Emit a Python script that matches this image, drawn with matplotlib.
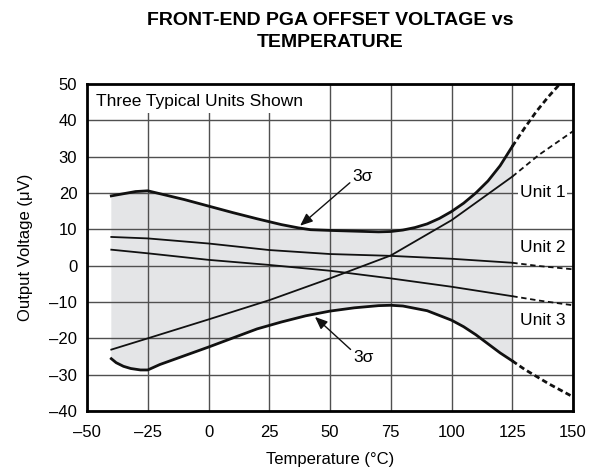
import matplotlib
matplotlib.use("Agg")
import matplotlib.pyplot as plt
from matplotlib.patches import Rectangle

plt.rcParams['font.family'] = ['Liberation Sans', 'DejaVu Sans']

# Upper 3 sigma (solid part, -40..125 C) and dashed extension
up_x = [-40, -35, -30, -25, -20, -10, 0, 10, 20, 30, 37, 42, 50, 60, 70, 75, 80, 85, 90, 95, 100, 105, 110, 115, 120, 125]
up_y = [19.2, 19.8, 20.4, 20.6, 19.8, 18.2, 16.4, 14.6, 12.9, 11.3, 10.4, 9.9, 9.7, 9.5, 9.3, 9.4, 9.8, 10.5, 11.5, 13.0, 14.9, 17.2, 20.0, 23.3, 27.5, 32.8]
up_dx = [125, 130, 135, 140, 145]
up_dy = [32.8, 37.8, 42.5, 46.6, 50.3]

# Lower 3 sigma
lo_x = [-40, -38, -35, -32, -28, -25, -20, -10, 0, 10, 20, 30, 40, 50, 60, 70, 75, 80, 90, 100, 105, 110, 115, 120, 125]
lo_y = [-25.6, -26.7, -27.7, -28.3, -28.7, -28.7, -27.2, -24.8, -22.4, -19.9, -17.4, -15.5, -13.8, -12.5, -11.6, -11.0, -10.9, -11.1, -12.4, -15.0, -16.8, -19.0, -21.5, -24.0, -26.2]
lo_dx = [125, 130, 135, 140, 145, 150]
lo_dy = [-26.2, -28.5, -30.5, -32.5, -34.3, -36.1]

# Typical units
unit_x = [-40, -25, 0, 25, 50, 75, 100, 125]
unit1_y = [-23.1, -20.0, -14.8, -9.5, -3.5, 2.8, 12.5, 24.5]
unit2_y = [7.9, 7.5, 6.1, 4.3, 3.2, 2.7, 1.9, 0.8]
unit3_y = [4.4, 3.4, 1.6, 0.2, -1.4, -3.5, -5.8, -8.4]
ext_x = [125, 136, 150]
unit1_dy = [24.5, 30.5, 37.0]
unit2_dy = [0.8, -0.1, -1.0]
unit3_dy = [-8.4, -9.6, -10.9]

xticks = [-50, -25, 0, 25, 50, 75, 100, 125, 150]
xlabels = ['–50', '–25', '0', '25', '50', '75', '100', '125', '150']
yticks = [-40, -30, -20, -10, 0, 10, 20, 30, 40, 50]
ylabels = ['–40', '–30', '–20', '–10', '0', '10', '20', '30', '40', '50']

fig = plt.figure(figsize=(5.98, 4.75), dpi=100)
ax = fig.add_axes([0.1455, 0.1347, 0.8127, 0.6885])

ax.set_xlim(-50, 150)
ax.set_ylim(-40, 50)
ax.set_xticks(xticks)
ax.set_xticklabels(xlabels)
ax.set_yticks(yticks)
ax.set_yticklabels(ylabels)
ax.tick_params(length=0, labelsize=12)
ax.tick_params(axis='x', pad=10)
ax.tick_params(axis='y', pad=7)
ax.set_axisbelow(True)
ax.grid(True, color='#505050', lw=1.0)
for s in ax.spines.values():
    s.set_linewidth(2.0)

# shaded band between the 3 sigma curves
band_x = up_x + lo_x[::-1]
band_y = up_y + lo_y[::-1]
ax.fill(band_x, band_y, color='#e4e5e7', lw=0, zorder=0.2)

ax.add_patch(Rectangle((-50, 42), 95, 8, fc='white', ec='none', zorder=1))
ax.text(-46.5, 45.3, 'Three Typical Units Shown', fontsize=12.5, va='center', ha='left', zorder=3)

ax.plot(up_x, up_y, color='#111111', lw=2.0, zorder=2)
ax.plot(lo_x, lo_y, color='#111111', lw=2.0, zorder=2)
ax.plot(up_dx, up_dy, color='#111111', lw=2.0, ls=(0, (2, 1.2)), zorder=2)
ax.plot(lo_dx, lo_dy, color='#111111', lw=2.0, ls=(0, (2, 1.2)), zorder=2)

for uy, dy in [(unit1_y, unit1_dy), (unit2_y, unit2_dy), (unit3_y, unit3_dy)]:
    ax.plot(unit_x, uy, color='#111111', lw=1.3, zorder=2)
    ax.plot(ext_x, dy, color='#111111', lw=1.3, ls=(0, (3, 2)), zorder=2)

box = dict(fc='white', ec='none', pad=1)
ax.text(137.5, 20, 'Unit 1', fontsize=12.5, ha='center', va='center', bbox=box, zorder=3)
ax.text(137.5, 5, 'Unit 2', fontsize=12.5, ha='center', va='center', bbox=box, zorder=3)
ax.text(137.5, -15.2, 'Unit 3', fontsize=12.5, ha='center', va='center', bbox=box, zorder=3)

arrow = dict(arrowstyle='-|>,head_length=0.6,head_width=0.25', color='#111111', lw=1.0, shrinkA=0, shrinkB=0)
ax.annotate('3σ', xy=(37.7, 11.0), xytext=(63.5, 24.5), fontsize=12.5, ha='center', va='center',
            arrowprops=dict(arrow, relpos=(0, 0.25)), zorder=3)
ax.annotate('3σ', xy=(43.8, -14.1), xytext=(63.8, -25.2), fontsize=12.5, ha='center', va='center',
            arrowprops=dict(arrow, relpos=(0, 0.85)), zorder=3)

ax.set_xlabel('Temperature (°C)', fontsize=12, labelpad=9)
ax.set_ylabel('Output Voltage (μV)', fontsize=12, labelpad=12)
fig.text(0.552, 0.934, 'FRONT-END PGA OFFSET VOLTAGE vs\nTEMPERATURE', fontsize=14, fontweight='bold',
         ha='center', va='center', linespacing=1.35)

fig.savefig('out.png', dpi=100)
